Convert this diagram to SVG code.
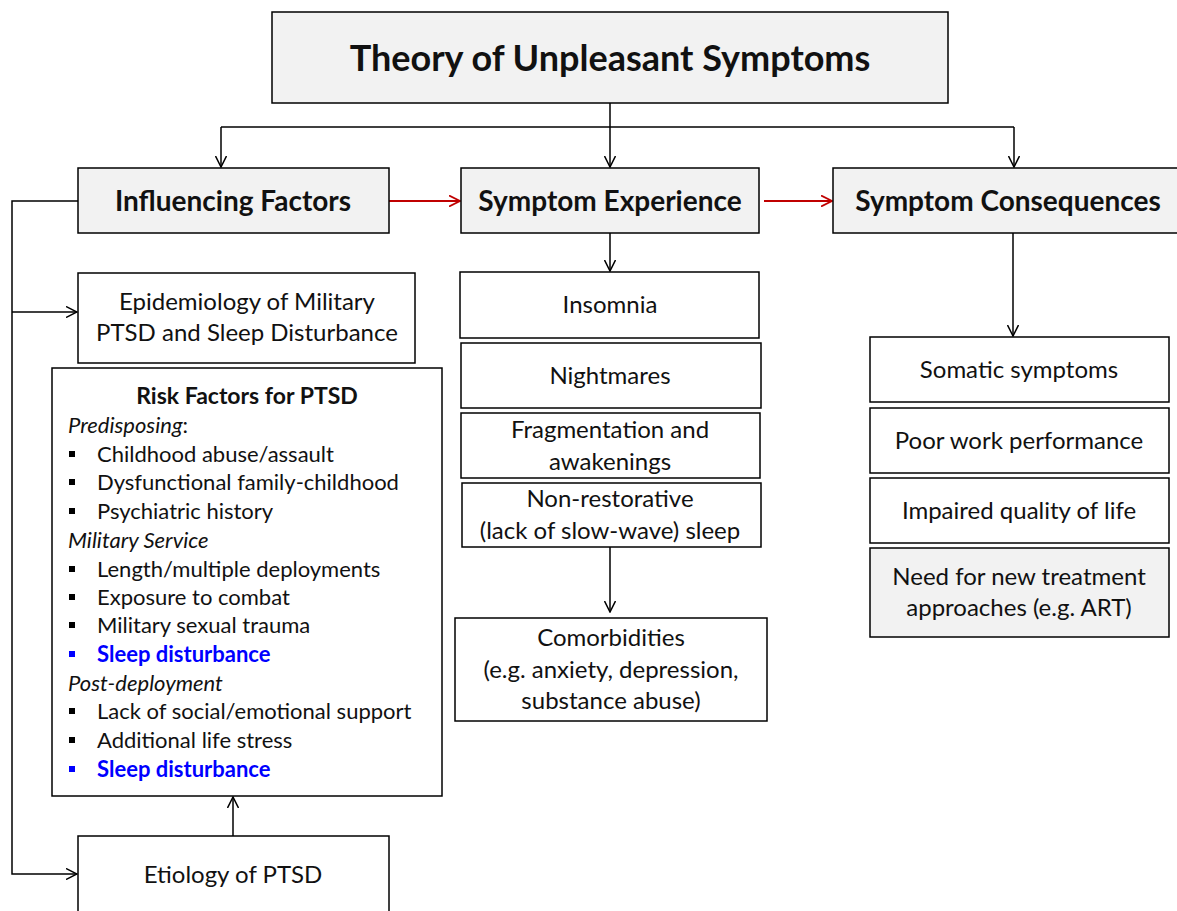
<svg xmlns="http://www.w3.org/2000/svg" width="1177" height="911" viewBox="0 0 1177 911">
<defs>
<marker id="ab" viewBox="0 0 12 12" markerWidth="12" markerHeight="12" refX="11" refY="6" orient="auto" markerUnits="userSpaceOnUse">
<path d="M0,0.5 L11,6 L0,11.5" fill="none" stroke="#000" stroke-width="1.5"/>
</marker>
<marker id="ar" viewBox="0 0 12 12" markerWidth="12" markerHeight="12" refX="11" refY="6" orient="auto" markerUnits="userSpaceOnUse">
<path d="M0,0.5 L11,6 L0,11.5" fill="none" stroke="#c00000" stroke-width="1.8"/>
</marker>
</defs>
<style>
.box{fill:#fff;stroke:#000;stroke-width:1.5}
.gbox{fill:#f2f2f2;stroke:#000;stroke-width:1.5}
text{font-family:Lato,"Open Sans","Liberation Sans",sans-serif;fill:#111}
.t{font-size:24px;text-anchor:middle}
.h{font-size:28px;font-weight:bold;text-anchor:middle}
.l{font-size:22px}
.i{font-size:22px;font-style:italic}
.blue{fill:#0000ff;font-weight:bold}
.c{fill:none;stroke:#000;stroke-width:1.5}
.r{fill:none;stroke:#c00000;stroke-width:2}
</style>
<rect width="1177" height="911" fill="#fff"/>

<g id="connectors">
<path class="c" d="M610,103 V127"/>
<path class="c" d="M221,127 H1014"/>
<path class="c" d="M221,127 V167" marker-end="url(#ab)"/>
<path class="c" d="M610,127 V167" marker-end="url(#ab)"/>
<path class="c" d="M1014,127 V167" marker-end="url(#ab)"/>
<path class="r" d="M389,201 H460" marker-end="url(#ar)"/>
<path class="r" d="M764,201 H832" marker-end="url(#ar)"/>
<path class="c" d="M78,201 H12 V874 H77" marker-end="url(#ab)"/>
<path class="c" d="M12,312 H77" marker-end="url(#ab)"/>
<path class="c" d="M610,233 V271" marker-end="url(#ab)"/>
<path class="c" d="M610,547 V612" marker-end="url(#ab)"/>
<path class="c" d="M1013,233 V336" marker-end="url(#ab)"/>
<path class="c" d="M233,836 V797" marker-end="url(#ab)"/>
</g>

<g id="title">
<rect class="gbox" x="272" y="12" width="676" height="91"/>
<text x="610" y="71" style="font-size:36px;font-weight:bold;text-anchor:middle">Theory of Unpleasant Symptoms</text>
</g>

<g id="influencing">
<rect class="gbox" x="78" y="168" width="311" height="65"/>
<text class="h" x="233" y="211">Influencing Factors</text>
</g>
<g id="experience">
<rect class="gbox" x="461" y="168" width="298" height="65"/>
<text class="h" x="610" y="211">Symptom Experience</text>
</g>
<g id="consequences">
<rect class="gbox" x="833" y="168" width="360" height="65"/>
<text class="h" x="1008" y="211">Symptom Consequences</text>
</g>

<g id="epidemiology">
<rect class="box" x="78" y="273" width="337" height="90"/>
<text class="t" x="247" y="310">Epidemiology of Military</text>
<text class="t" x="247" y="341">PTSD and Sleep Disturbance</text>
</g>

<g id="risk">
<rect class="box" x="52" y="368" width="390" height="428"/>
<text x="247" y="404" style="font-size:23px;font-weight:bold;text-anchor:middle">Risk Factors for PTSD</text>
<text class="i" x="68" y="433">Predisposing<tspan font-style="normal">:</tspan></text>
<rect x="69" y="451" width="6" height="6" fill="#000"/><text class="l" x="97" y="462">Childhood abuse/assault</text>
<rect x="69" y="479" width="6" height="6" fill="#000"/><text class="l" x="97" y="490">Dysfunctional family-childhood</text>
<rect x="69" y="508" width="6" height="6" fill="#000"/><text class="l" x="97" y="519">Psychiatric history</text>
<text class="i" x="68" y="548">Military Service</text>
<rect x="69" y="566" width="6" height="6" fill="#000"/><text class="l" x="97" y="577">Length/multiple deployments</text>
<rect x="69" y="594" width="6" height="6" fill="#000"/><text class="l" x="97" y="605">Exposure to combat</text>
<rect x="69" y="622" width="6" height="6" fill="#000"/><text class="l" x="97" y="633">Military sexual trauma</text>
<rect x="69" y="651" width="6" height="6" fill="#0000ff"/><text class="l blue" x="97" y="662">Sleep disturbance</text>
<text class="i" x="68" y="691">Post-deployment</text>
<rect x="69" y="708" width="6" height="6" fill="#000"/><text class="l" x="97" y="719">Lack of social/emotional support</text>
<rect x="69" y="737" width="6" height="6" fill="#000"/><text class="l" x="97" y="748">Additional life stress</text>
<rect x="69" y="766" width="6" height="6" fill="#0000ff"/><text class="l blue" x="97" y="777">Sleep disturbance</text>
</g>

<g id="etiology">
<rect class="box" x="78" y="836" width="311" height="90"/>
<text class="t" x="233" y="883">Etiology of PTSD</text>
</g>

<g id="insomnia">
<rect class="box" x="460" y="272" width="299" height="66"/>
<text class="t" x="610" y="313">Insomnia</text>
</g>
<g id="nightmares">
<rect class="box" x="461" y="343" width="300" height="65"/>
<text class="t" x="610" y="384">Nightmares</text>
</g>
<g id="fragmentation">
<rect class="box" x="461" y="413" width="299" height="65"/>
<text class="t" x="610" y="438">Fragmentation and</text>
<text class="t" x="610" y="470">awakenings</text>
</g>
<g id="nonrestorative">
<rect class="box" x="462" y="483" width="299" height="64"/>
<text class="t" x="610" y="507">Non-restorative</text>
<text class="t" x="610" y="539">(lack of slow-wave) sleep</text>
</g>
<g id="comorbidities">
<rect class="box" x="455" y="618" width="312" height="103"/>
<text class="t" x="611" y="646">Comorbidities</text>
<text class="t" x="611" y="678">(e.g. anxiety, depression,</text>
<text class="t" x="611" y="709">substance abuse)</text>
</g>

<g id="somatic">
<rect class="box" x="870" y="337" width="299" height="65"/>
<text class="t" x="1019" y="378">Somatic symptoms</text>
</g>
<g id="work">
<rect class="box" x="870" y="408" width="299" height="65"/>
<text class="t" x="1019" y="449">Poor work performance</text>
</g>
<g id="quality">
<rect class="box" x="870" y="478" width="299" height="65"/>
<text class="t" x="1019" y="519">Impaired quality of life</text>
</g>
<g id="treatment">
<rect class="gbox" x="870" y="548" width="299" height="89"/>
<text class="t" x="1019" y="585">Need for new treatment</text>
<text class="t" x="1019" y="616">approaches (e.g. ART)</text>
</g>
</svg>
